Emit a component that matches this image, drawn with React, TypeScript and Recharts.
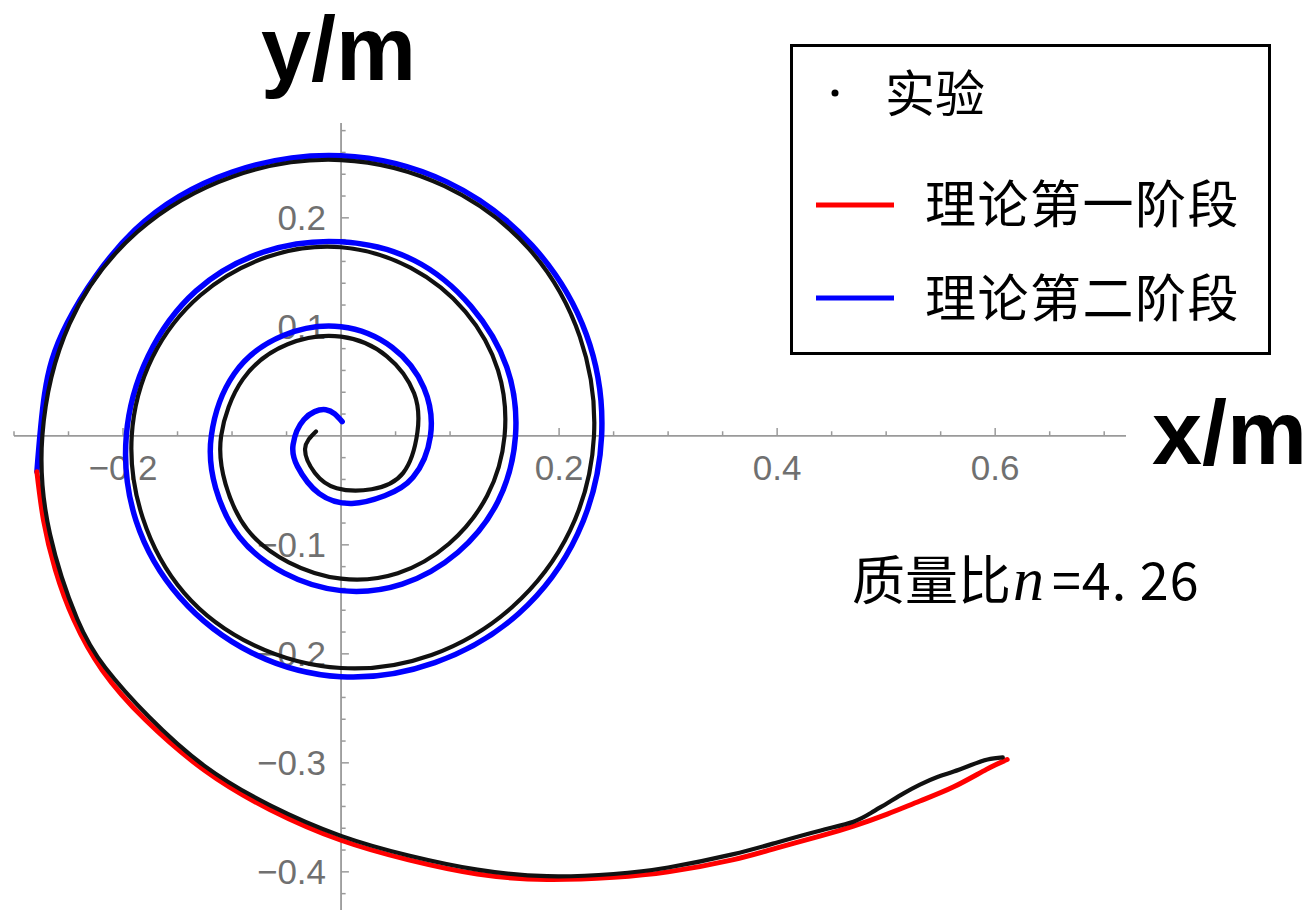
import React from 'react';
import { ComposedChart, Line, XAxis, YAxis, ReferenceLine, Legend } from 'recharts';

const EXP_NAME = '实验';
const STAGE1_NAME = '理论第一阶段';
const STAGE2_NAME = '理论第二阶段';

// measured track, from the end of the tail back along the bottom and into the spiral
const experiment: [number, number][] = [
  [0.607, -0.295], [0.593, -0.297], [0.578, -0.302], [0.562, -0.308], [0.547, -0.313],
  [0.531, -0.320], [0.516, -0.328], [0.501, -0.337], [0.486, -0.346], [0.470, -0.354],
  [0.440, -0.362], [0.400, -0.373], [0.359, -0.384], [0.300, -0.396], [0.250, -0.402],
  [0.189, -0.404], [0.125, -0.398], [0.062, -0.385], [0.000, -0.367], [-0.065, -0.339],
  [-0.125, -0.303], [-0.176, -0.258], [-0.216, -0.213], [-0.242, -0.168], [-0.267, -0.090],
  // outer turn
  [-0.274, 0.000], [-0.249, 0.103], [-0.187, 0.187], [-0.099, 0.238], [0.000, 0.253],
  [0.095, 0.229], [0.172, 0.172], [0.219, 0.091], [0.232, 0.000], [0.210, -0.087],
  [0.157, -0.157], [0.083, -0.201], [0.000, -0.213], [-0.080, -0.192], [-0.144, -0.144],
  [-0.182, -0.075],
  // second turn
  [-0.192, 0.000], [-0.173, 0.072], [-0.129, 0.129], [-0.068, 0.164], [0.000, 0.173],
  [0.064, 0.154], [0.114, 0.114], [0.144, 0.060], [0.150, 0.000], [0.134, -0.055],
  [0.099, -0.099], [0.052, -0.126], [0.000, -0.131], [-0.048, -0.116], [-0.086, -0.086],
  [-0.106, -0.044],
  // inner turns
  [-0.110, 0.000], [-0.090, 0.052], [-0.049, 0.084], [0.000, 0.091], [0.042, 0.073],
  [0.067, 0.039], [0.070, 0.003], [0.057, -0.034], [0.028, -0.049], [-0.004, -0.048],
  [-0.024, -0.034], [-0.033, -0.012], [-0.023, 0.004],
];

// first stage: from the hand-over point on the left down and out to the tail
const stageOne: [number, number][] = [
  [-0.279, -0.033], [-0.273, -0.077], [-0.262, -0.123], [-0.245, -0.169], [-0.219, -0.215],
  [-0.179, -0.261], [-0.125, -0.307], [-0.065, -0.343], [0.000, -0.371], [0.062, -0.389],
  [0.125, -0.402], [0.189, -0.407], [0.250, -0.405], [0.300, -0.400], [0.359, -0.389],
  [0.400, -0.378], [0.440, -0.367], [0.470, -0.358], [0.501, -0.347], [0.531, -0.335],
  [0.562, -0.322], [0.592, -0.306], [0.611, -0.297],
];

// second stage: from the hand-over point spiralling in to the centre
const stageTwo: [number, number][] = [
  [-0.279, -0.033], [-0.272, 0.038], [-0.251, 0.104], [-0.189, 0.189], [-0.100, 0.242],
  [0.000, 0.257], [0.097, 0.233], [0.175, 0.175], [0.225, 0.093], [0.239, 0.000],
  [0.217, -0.090], [0.163, -0.163], [0.086, -0.208], [0.000, -0.221], [-0.082, -0.199],
  [-0.148, -0.148], [-0.188, -0.078],
  [-0.197, 0.000], [-0.177, 0.073], [-0.133, 0.133], [-0.070, 0.169], [0.000, 0.178],
  [0.067, 0.161], [0.119, 0.119], [0.152, 0.063], [0.160, 0.000], [0.144, -0.060],
  [0.107, -0.107], [0.056, -0.136], [0.000, -0.142], [-0.052, -0.126], [-0.093, -0.093],
  [-0.115, -0.048],
  [-0.119, 0.000], [-0.098, 0.057], [-0.053, 0.092], [0.000, 0.100], [0.047, 0.081],
  [0.076, 0.044], [0.082, 0.000], [0.066, -0.038], [0.040, -0.055], [0.010, -0.062],
  [-0.020, -0.053], [-0.040, -0.028], [-0.044, -0.008], [-0.034, 0.015], [-0.014, 0.024],
  [0.001, 0.013],
];

const xMajorTicks = [-0.2, 0.2, 0.4, 0.6];
const xMinorTicks = [-0.3, -0.25, -0.15, -0.1, -0.05, 0.05, 0.1, 0.15, 0.25, 0.3, 0.35, 0.45, 0.5, 0.55, 0.65, 0.7];
const yMajorTicks = [0.2, 0.1, -0.1, -0.2, -0.3, -0.4];
const yMinorTicks = [
  0.28, 0.26, 0.24, 0.22, 0.18, 0.16, 0.14, 0.12, 0.08, 0.06, 0.04, 0.02,
  -0.02, -0.04, -0.06, -0.08, -0.12, -0.14, -0.16, -0.18, -0.22, -0.24, -0.26, -0.28,
  -0.32, -0.34, -0.36, -0.38, -0.42,
];

const AXIS = '#9a9a9a';
const LABEL = '#707070';
const SANS = '"Liberation Sans", Arial, sans-serif';
const CJK = '"Noto Sans CJK SC", sans-serif';
const MAJOR_LEN = 0.0072;
const MINOR_LEN = 0.0042;

const toPoints = (arr: [number, number][]) => arr.map(([x, y]) => ({ x, y }));
const fmt = (v: number) => (v < 0 ? `\u2212${Math.abs(v)}` : `${v}`);

const xTickLabel = (v: number) => (props: any) => {
  const vb = props.viewBox;
  return (
    <text x={vb.x} y={vb.y + vb.height + 44} textAnchor="middle" fill={LABEL} fontSize={35} fontFamily={SANS}>
      {fmt(v)}
    </text>
  );
};

const yTickLabel = (v: number) => (props: any) => {
  const vb = props.viewBox;
  return (
    <text x={vb.x - 15} y={vb.y + 12.5} textAnchor="end" fill={LABEL} fontSize={35} fontFamily={SANS}>
      {fmt(v)}
    </text>
  );
};

const renderLegend = () => (
  <svg width={481} height={311}>
    <rect x={1.5} y={1.5} width={478} height={308} fill="#fff" stroke="#000" strokeWidth={3} />
    <circle cx={45} cy={49} r={3.5} fill="#000" />
    <text x={95} y={46} dominantBaseline="central" fontSize={50} fontFamily={CJK} fill="#000">{EXP_NAME}</text>
    <line x1={26} x2={104} y1={161} y2={161} stroke="#ff0000" strokeWidth={5} />
    <text x={135} y={157} dominantBaseline="central" fontSize={51} letterSpacing={1.5} fontFamily={CJK} fill="#000">{STAGE1_NAME}</text>
    <line x1={26} x2={104} y1={254} y2={254} stroke="#0000ff" strokeWidth={5} />
    <text x={135} y={251} dominantBaseline="central" fontSize={51} letterSpacing={1.5} fontFamily={CJK} fill="#000">{STAGE2_NAME}</text>
  </svg>
);

const App: React.FC = () => {
  return (
    <div style={{ position: 'absolute', left: 0, top: 0, width: 1306, height: 910, background: '#fff' }}>
      <ComposedChart width={1306} height={910} margin={{ top: 123, right: 180, bottom: 0, left: 14 }}>
        <XAxis type="number" dataKey="x" domain={[-0.3, 0.72]} allowDataOverflow hide />
        <YAxis type="number" domain={[-0.435, 0.287]} allowDataOverflow hide />

        <ReferenceLine y={0} stroke={AXIS} strokeWidth={1.8} />
        <ReferenceLine x={0} stroke={AXIS} strokeWidth={1.8} />
        {xMinorTicks.map((t) => (
          <ReferenceLine key={`xm${t}`} segment={[{ x: t, y: 0 }, { x: t, y: MINOR_LEN }]} stroke={AXIS} strokeWidth={1.5} />
        ))}
        {xMajorTicks.map((t) => (
          <ReferenceLine key={`xM${t}`} segment={[{ x: t, y: 0 }, { x: t, y: MAJOR_LEN }]} stroke={AXIS} strokeWidth={1.5} label={xTickLabel(t)} />
        ))}
        {yMinorTicks.map((t) => (
          <ReferenceLine key={`ym${t}`} segment={[{ x: 0, y: t }, { x: MINOR_LEN, y: t }]} stroke={AXIS} strokeWidth={1.5} />
        ))}
        {yMajorTicks.map((t) => (
          <ReferenceLine key={`yM${t}`} segment={[{ x: 0, y: t }, { x: MAJOR_LEN, y: t }]} stroke={AXIS} strokeWidth={1.5} label={yTickLabel(t)} />
        ))}

        <Line data={toPoints(stageTwo)} dataKey="y" name={STAGE2_NAME} type="natural" stroke="#0000ff" strokeWidth={5.5}
          strokeLinecap="round" dot={false} activeDot={false} isAnimationActive={false} />
        <Line data={toPoints(stageOne)} dataKey="y" name={STAGE1_NAME} type="natural" stroke="#ff0000" strokeWidth={5}
          strokeLinecap="round" dot={false} activeDot={false} isAnimationActive={false} />
        <Line data={toPoints(experiment)} dataKey="y" name={EXP_NAME} type="natural" stroke="#111111" strokeWidth={4.2}
          strokeLinecap="round" dot={false} activeDot={false} isAnimationActive={false} />

        <Legend layout="vertical" align="center" verticalAlign="middle" content={renderLegend}
          wrapperStyle={{ left: 790, top: 44, width: 481, height: 311 }} />
      </ComposedChart>

      <svg width={1306} height={910} style={{ position: 'absolute', left: 0, top: 0, pointerEvents: 'none' }}>
        <text x={261} y={80} fontSize={90} fontWeight="bold" fontFamily={SANS} fill="#000">y/m</text>
        <text x={1152} y={464} fontSize={90} fontWeight="bold" fontFamily={SANS} fill="#000">x/m</text>
        <text x={852} y={600} fill="#000">
          <tspan fontSize={53} fontFamily={CJK}>质量比</tspan>
          <tspan fontSize={62} fontFamily='"Liberation Serif", serif' fontStyle="italic" dx={2}>n</tspan>
          <tspan fontSize={52} fontFamily={CJK} dx={8} letterSpacing={1}>=4. 26</tspan>
        </text>
      </svg>
    </div>
  );
};

export default App;
